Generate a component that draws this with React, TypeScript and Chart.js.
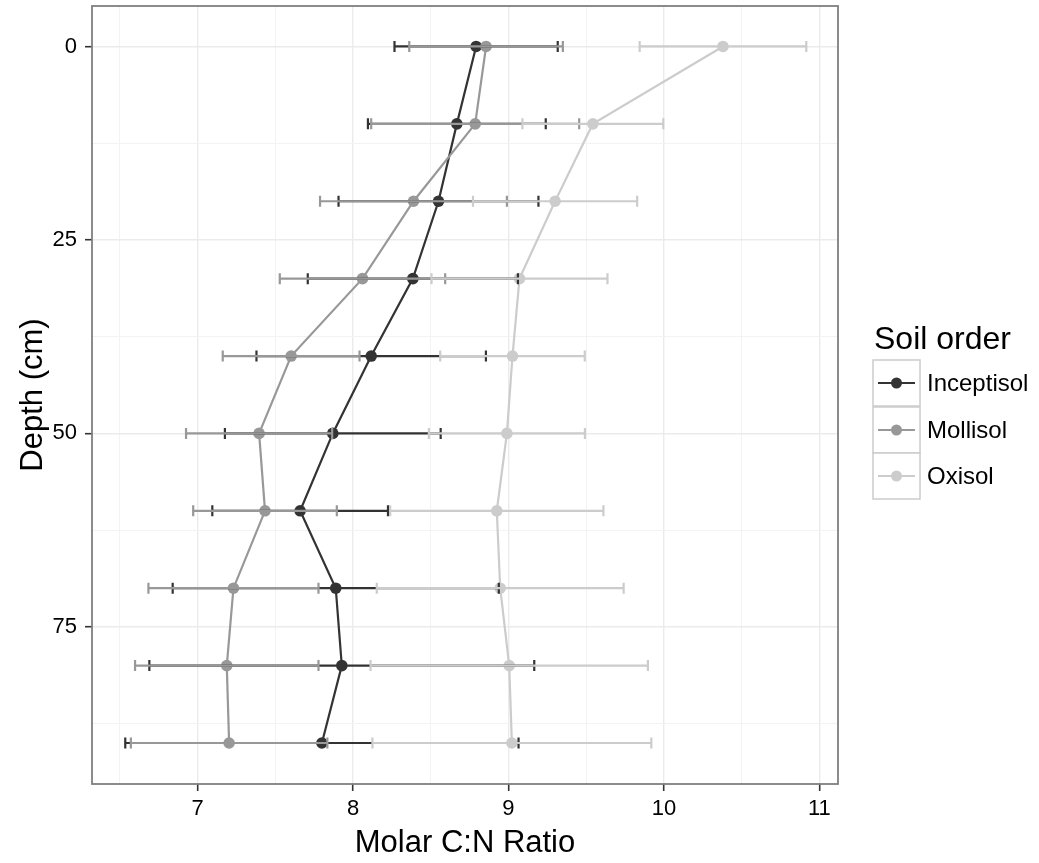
import React, { useEffect, useRef } from "react";
import { Chart, registerables } from "chart.js";

Chart.register(...registerables);

// Depth of each sampled layer (cm)
const depths = [0, 10, 20, 30, 40, 50, 60, 70, 80, 90];

// Mean molar C:N ratio and its standard error for each soil order
const inceptisolMean = [8.792, 8.668, 8.55, 8.385, 8.117, 7.87, 7.66, 7.889, 7.928, 7.8];
const inceptisolSE = [0.525, 0.572, 0.643, 0.676, 0.738, 0.694, 0.565, 1.049, 1.238, 1.265];
const mollisolMean = [8.856, 8.786, 8.389, 8.061, 7.602, 7.396, 7.434, 7.231, 7.188, 7.203];
const mollisolSE = [0.494, 0.669, 0.601, 0.532, 0.44, 0.47, 0.462, 0.547, 0.59, 0.632];
const oxisolMean = [10.38, 9.543, 9.3, 9.071, 9.026, 8.99, 8.925, 8.947, 9.005, 9.022];
const oxisolSE = [0.536, 0.453, 0.528, 0.566, 0.465, 0.502, 0.686, 0.794, 0.892, 0.897];

const seriesNames = ["Inceptisol", "Mollisol", "Oxisol"];
const seriesColors = ["#333333", "#989898", "#cccccc"];

// Axis ticks: labelled majors and unlabelled minors
const xMajorTicks = [7, 8, 9, 10, 11];
const xMinorTicks = [6.5, 7.5, 8.5, 9.5, 10.5];
const yMajorTicks = [0, 25, 50, 75];
const yMinorTicks = [12.5, 37.5, 62.5, 87.5];

const xTitle = "Molar C:N Ratio";
const yTitle = "Depth (cm)";
const legendTitle = "Soil order";

const FONT = '"Liberation Sans", Arial, Helvetica, sans-serif';

const series = [
  { name: seriesNames[0], color: seriesColors[0], mean: inceptisolMean, se: inceptisolSE },
  { name: seriesNames[1], color: seriesColors[1], mean: mollisolMean, se: mollisolSE },
  { name: seriesNames[2], color: seriesColors[2], mean: oxisolMean, se: oxisolSE },
];

const errorBarPlugin = {
  id: "errorBars",
  afterDatasetsDraw(chart: any) {
    const { ctx, scales } = chart;
    const xs = scales.x;
    const ys = scales.y;
    ctx.save();
    ctx.lineWidth = 2.2;
    ctx.lineCap = "butt";
    for (const s of series) {
      ctx.strokeStyle = s.color;
      depths.forEach((d, i) => {
        const yp = ys.getPixelForValue(d);
        const x0 = xs.getPixelForValue(s.mean[i] - s.se[i]);
        const x1 = xs.getPixelForValue(s.mean[i] + s.se[i]);
        const h = 5.5;
        ctx.beginPath();
        ctx.moveTo(x0, yp);
        ctx.lineTo(x1, yp);
        ctx.moveTo(x0, yp - h);
        ctx.lineTo(x0, yp + h);
        ctx.moveTo(x1, yp - h);
        ctx.lineTo(x1, yp + h);
        ctx.stroke();
      });
    }
    ctx.restore();
  },
};

const decorPlugin = {
  id: "decor",
  afterDraw(chart: any) {
    const { ctx, chartArea } = chart;
    ctx.save();
    // panel border
    ctx.strokeStyle = "#7f7f7f";
    ctx.lineWidth = 1.8;
    ctx.strokeRect(chartArea.left, chartArea.top, chartArea.right - chartArea.left, chartArea.bottom - chartArea.top);

    // axis titles
    ctx.fillStyle = "#000000";
    ctx.font = `31px ${FONT}`;
    ctx.textAlign = "center";
    ctx.textBaseline = "alphabetic";
    ctx.fillText(xTitle, (chartArea.left + chartArea.right) / 2, 852);
    ctx.save();
    ctx.translate(42, (chartArea.top + chartArea.bottom) / 2);
    ctx.rotate(-Math.PI / 2);
    ctx.fillText(yTitle, 0, 0);
    ctx.restore();

    // legend
    ctx.textAlign = "left";
    ctx.font = `32px ${FONT}`;
    ctx.fillText(legendTitle, 874, 349);
    const keyX = 873;
    const keyW = 47;
    const keyTops = [360, 407, 453];
    const keyH = 46;
    ctx.font = `24px ${FONT}`;
    ctx.textBaseline = "middle";
    series.forEach((s, i) => {
      const top = keyTops[i];
      ctx.fillStyle = "#ffffff";
      ctx.fillRect(keyX, top, keyW, keyH);
      ctx.strokeStyle = "#cccccc";
      ctx.lineWidth = 1.5;
      ctx.strokeRect(keyX, top, keyW, keyH);
      const cy = top + keyH / 2;
      ctx.strokeStyle = s.color;
      ctx.lineWidth = 2.2;
      ctx.beginPath();
      ctx.moveTo(keyX + 5, cy);
      ctx.lineTo(keyX + keyW - 5, cy);
      ctx.stroke();
      ctx.fillStyle = s.color;
      ctx.beginPath();
      ctx.arc(keyX + keyW / 2, cy, 5.5, 0, Math.PI * 2);
      ctx.fill();
      ctx.fillStyle = "#000000";
      ctx.fillText(s.name, 927, cy + 1);
    });
    ctx.restore();
  },
};

export default function App() {
  const canvasRef = useRef<HTMLCanvasElement | null>(null);

  useEffect(() => {
    const canvas = canvasRef.current;
    if (!canvas) return;

    const lineSets = series.map((s, i) => ({
      label: s.name + " line",
      data: depths.map((d, j) => ({ x: s.mean[j], y: d })),
      showLine: true,
      borderColor: s.color,
      backgroundColor: s.color,
      borderWidth: 2.2,
      pointRadius: 0,
      order: 10 - i,
    }));
    const pointSets = series.map((s, i) => ({
      label: s.name,
      data: depths.map((d, j) => ({ x: s.mean[j], y: d })),
      showLine: false,
      borderColor: s.color,
      backgroundColor: s.color,
      pointRadius: 5.8,
      pointBorderWidth: 0,
      order: 5 - i,
    }));

    const isMajorX = (v: number) => xMajorTicks.includes(v);
    const isMajorY = (v: number) => yMajorTicks.includes(v);

    const chart = new Chart(canvas, {
      type: "scatter",
      data: { datasets: [...lineSets, ...pointSets] as any },
      options: {
        animation: false,
        responsive: false,
        devicePixelRatio: 1,
        layout: { padding: { left: 0, top: 6, right: 201, bottom: 0 } },
        plugins: { legend: { display: false }, tooltip: { enabled: false } },
        scales: {
          x: {
            type: "linear",
            min: 6.321,
            max: 11.12,
            afterBuildTicks: (scale: any) => {
              scale.ticks = [...xMinorTicks, ...xMajorTicks].sort((a, b) => a - b).map((v) => ({ value: v }));
            },
            afterFit: (scale: any) => {
              scale.height = 79;
              scale.paddingLeft = 0;
              scale.paddingRight = 0;
            },
            ticks: {
              autoSkip: false,
              maxRotation: 0,
              padding: 5,
              color: "#000000",
              font: { family: FONT, size: 22 },
              callback: (v: any) => (isMajorX(Number(v)) ? String(v) : ""),
            },
            grid: {
              color: (c: any) => (isMajorX(c.tick?.value) ? "#ebebeb" : "#f3f3f3"),
              lineWidth: (c: any) => (isMajorX(c.tick?.value) ? 1.4 : 1),
              tickColor: (c: any) => (isMajorX(c.tick?.value) ? "#333333" : "rgba(0,0,0,0)"),
              tickLength: 7,
              tickWidth: 1.6,
            },
            border: { display: false },
          },
          y: {
            type: "linear",
            reverse: true,
            min: -5.23,
            max: 95.3,
            afterBuildTicks: (scale: any) => {
              scale.ticks = [...yMajorTicks, ...yMinorTicks].sort((a, b) => a - b).map((v) => ({ value: v }));
            },
            afterFit: (scale: any) => {
              scale.width = 92;
              scale.paddingTop = 0;
              scale.paddingBottom = 0;
            },
            ticks: {
              autoSkip: false,
              padding: 8,
              color: "#000000",
              font: { family: FONT, size: 22 },
              callback: (v: any) => (isMajorY(Number(v)) ? String(v) : ""),
            },
            grid: {
              color: (c: any) => (isMajorY(c.tick?.value) ? "#ebebeb" : "#f3f3f3"),
              lineWidth: (c: any) => (isMajorY(c.tick?.value) ? 1.4 : 1),
              tickColor: (c: any) => (isMajorY(c.tick?.value) ? "#333333" : "rgba(0,0,0,0)"),
              tickLength: 7,
              tickWidth: 1.6,
            },
            border: { display: false },
          },
        },
      },
      plugins: [errorBarPlugin, decorPlugin],
    });

    return () => {
      chart.destroy();
    };
  }, []);

  return (
    <div style={{ position: "absolute", left: 0, top: 0, width: 1039, height: 863, background: "#ffffff" }}>
      <canvas ref={canvasRef} width={1039} height={863} style={{ width: 1039, height: 863 }} />
    </div>
  );
}
